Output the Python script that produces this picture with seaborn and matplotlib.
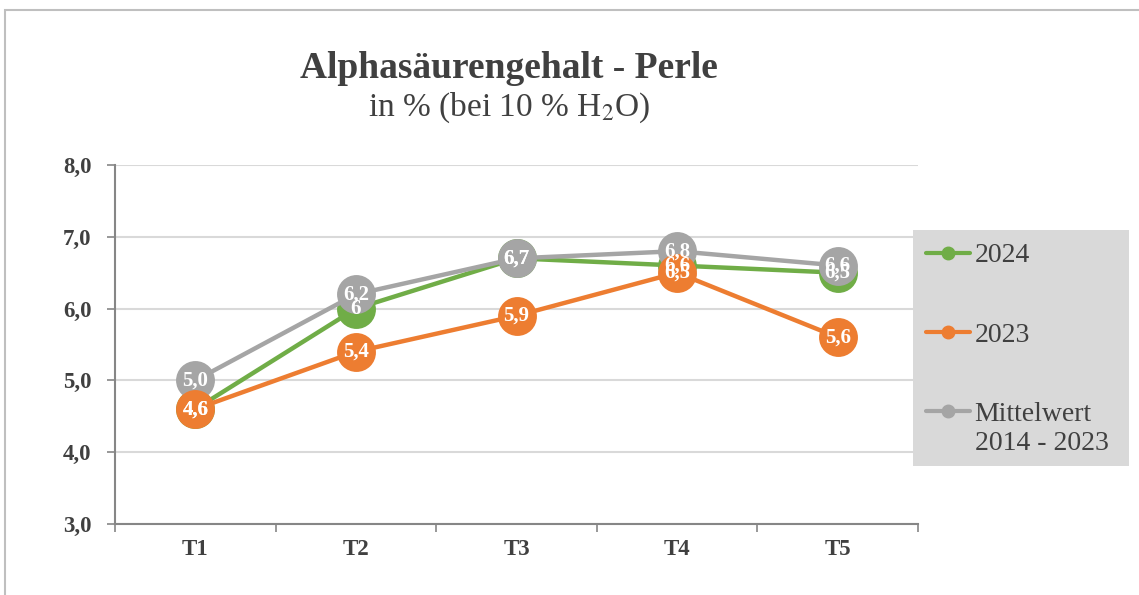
import pandas as pd
import seaborn as sns
import matplotlib.pyplot as plt
from matplotlib.lines import Line2D
from matplotlib.patches import Rectangle

# data
termine = ["T1", "T2", "T3", "T4", "T5"]
werte_2024 = [4.6, 6, 6.7, 6.6, 6.5]
werte_2023 = [4.6, 5.4, 5.9, 6.5, 5.6]
werte_mittel = [5.0, 6.2, 6.7, 6.8, 6.6]
labels_2024 = ["4,6", "6", "6,7", "6,6", "6,5"]
labels_2023 = ["4,6", "5,4", "5,9", "6,5", "5,6"]
labels_mittel = ["5,0", "6,2", "6,7", "6,8", "6,6"]
y_ticks = [3, 4, 5, 6, 7, 8]
y_ticklabels = ["3,0", "4,0", "5,0", "6,0", "7,0", "8,0"]

sns.set_theme(style="white")
plt.rcParams["font.family"] = ["Liberation Serif", "DejaVu Serif"]
plt.rcParams["mathtext.fontset"] = "stix"
txt = "#404040"

fig = plt.figure(figsize=(11.39, 5.95), dpi=100)
ax = fig.add_axes([0.101, 0.1193, 0.705, 0.6034])

# outer chart frame (only top and left edge visible)
fig.patches.append(Rectangle((5/1139, -0.2), 1.2, 1.2 - 10/595,
                             transform=fig.transFigure, fill=False,
                             edgecolor="#bfbfbf", linewidth=1.5))

series = [
    ("2024", werte_2024, labels_2024, "#70ad47", 3),
    ("Mittelwert", werte_mittel, labels_mittel, "#a5a5a5", 4),
    ("2023", werte_2023, labels_2023, "#ed7d31", 5),
]
for name, vals, labs, col, z in series:
    sns.lineplot(x=termine, y=vals, ax=ax, color=col, linewidth=3.2,
                 marker="o", markersize=28, markeredgewidth=0,
                 sort=False, zorder=z)
    for i, (v, t) in enumerate(zip(vals, labs)):
        ax.text(i, v, t, ha="center", va="center", color="white",
                fontsize=15, fontweight="bold", zorder=10)

ax.set_xlim(-0.5, 4.5)
ax.set_ylim(3, 8)
ax.set_yticks(y_ticks)
ax.set_yticklabels(y_ticklabels, fontsize=16.5, fontweight="bold", color=txt)
ax.set_xticks(range(len(termine)))
ax.set_xticklabels(termine, fontsize=16.5, fontweight="bold", color=txt)
ax.set_xticks([x - 0.5 for x in range(len(termine) + 1)], minor=True)
ax.tick_params(axis="x", which="major", length=0, pad=11)
ax.tick_params(axis="x", which="minor", length=6, width=1.2, color="#868686", direction="out", bottom=True)
ax.tick_params(axis="y", length=6, width=1.2, color="#868686", direction="out", left=True, pad=11)
ax.grid(axis="y", color="#d9d9d9", linewidth=1.5)
ax.set_axisbelow(True)
for s in ["top", "right"]:
    ax.spines[s].set_visible(False)
for s in ["left", "bottom"]:
    ax.spines[s].set_color("#868686")
    ax.spines[s].set_linewidth(1.5)
ax.set_xlabel("")
ax.set_ylabel("")

fig.text(509/1139, 1 - 68/595, "Alphasäurengehalt - Perle", ha="center", va="center",
         fontsize=27, fontweight="bold", color=txt)
fig.text(509/1139, 1 - 108/595, r"in % (bei 10 % H$_\mathrm{2}$O)", ha="center", va="center",
         fontsize=24, color=txt)

# legend box
fig.patches.append(Rectangle((913/1139, 1 - 466/595), 216/1139, 236/595,
                             transform=fig.transFigure, facecolor="#d9d9d9",
                             edgecolor="none", zorder=0))
handles = [Line2D([], [], color=c, linewidth=3, marker="o", markersize=9)
           for c in ["#70ad47", "#ed7d31", "#a5a5a5"]]
names = ["2024", "2023", "Mittelwert"]
leg = fig.legend(handles, names, loc="upper left",
                 bbox_to_anchor=(926/1139, 1 - 243/595), frameon=False,
                 fontsize=20, labelspacing=1.93, handlelength=1.6,
                 handletextpad=0.15, borderaxespad=0, borderpad=0)
for t in leg.get_texts():
    t.set_color(txt)
fig.text(975/1139, 1 - 443/595, "2014 - 2023", ha="left", va="center",
         fontsize=20, color=txt)

fig.savefig("out.png", dpi=100)
